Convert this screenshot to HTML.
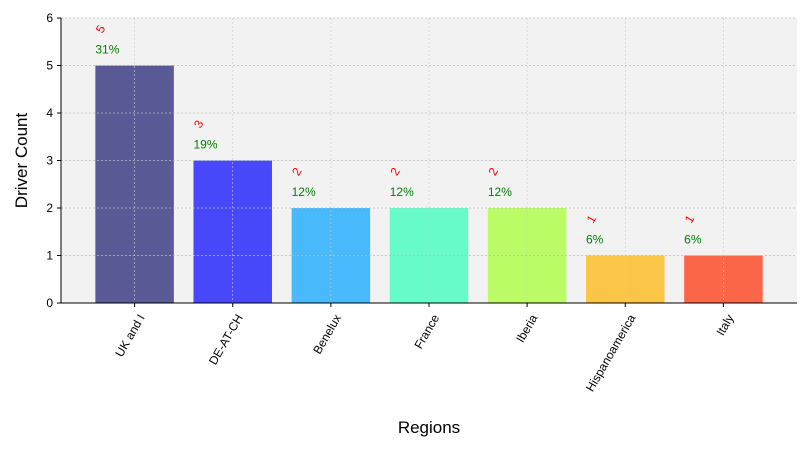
<!DOCTYPE html>
<html><head><meta charset="utf-8"><style>body{margin:0;background:#fff}svg{display:block;font-family:"Liberation Sans","DejaVu Sans",sans-serif}</style></head>
<body>
<svg id="chart" width="810" height="450" xmlns="http://www.w3.org/2000/svg"></svg>
<script>
const categories=["UK and I","DE-AT-CH","Benelux","France","Iberia","Hispanoamerica","Italy"];
const counts=[5,3,2,2,2,1,1];
const percents=["31%","19%","12%","12%","12%","6%","6%"];
const yTicks=[0,1,2,3,4,5,6];
const colors=["#191970","#0000ff","#00a2ff","#2bffb8","#a4ff2b","#ffb300","#ff2a00"];
const svg=document.getElementById('chart');
const NS="http://www.w3.org/2000/svg";
const L=61,R=797,T=18,B=303;
const xmin=-0.75,xmax=categories.length-0.25;
const x=v=>L+(v-xmin)/(xmax-xmin)*(R-L);
const y=v=>B-(v/6)*(B-T);
function mk(tag,attrs,parent){const e=document.createElementNS(NS,tag);for(const k in attrs)e.setAttribute(k,attrs[k]);(parent||svg).appendChild(e);return e;}
const bg=mk('rect',{x:L,y:T,width:R-L,height:B-T,fill:'#f2f2f2'});


const bw=x(0.8)-x(0);
categories.forEach((c,i)=>{
  const r=mk('rect',{x:x(i-0.4),y:y(counts[i]),width:bw,height:B-y(counts[i]),fill:colors[i],'fill-opacity':0.7});
  
  
});
// grid
yTicks.forEach(t=>{const g=mk('line',{x1:L,x2:R,y1:y(t),y2:y(t),stroke:'#bbb','stroke-dasharray':'2,2','stroke-width':0.8});

});
categories.forEach((c,i)=>{const g=mk('line',{x1:x(i),x2:x(i),y1:T,y2:B,stroke:'#ccc','stroke-dasharray':'2,2','stroke-width':0.6});

});
// labels on bars
categories.forEach((c,i)=>{
  const lx=x(i-0.4);
  const p=mk('text',{x:lx,y:y(counts[i])-12,fill:'green','font-size':12});p.textContent=percents[i];
  
  
  const n=mk('text',{x:lx+6,y:y(counts[i])-36,fill:'red','font-size':12,'text-anchor':'middle','dominant-baseline':'middle',transform:`rotate(-60 ${lx+6} ${y(counts[i])-36})`});n.textContent=counts[i];
  
  
  const xl=mk('text',{x:x(i)+3,y:B+10,'font-size':12,'text-anchor':'end','dominant-baseline':'hanging',transform:`rotate(-60 ${x(i)+3} ${B+10})`});xl.textContent=c;
  
  
  const tk=mk('line',{x1:x(i),x2:x(i),y1:B,y2:B+4,stroke:'#000'});
  
  
});
yTicks.forEach(t=>{
  const tk=mk('line',{x1:L-4,x2:L,y1:y(t),y2:y(t),stroke:'#000'});
  
  
  const tl=mk('text',{x:L-8,y:y(t)+4,'font-size':12,'text-anchor':'end'});tl.textContent=t;
  
  
});
const ax=mk('path',{d:`M${L} ${T}V${B}H${R}`,fill:'none',stroke:'#000','stroke-width':1});


const xt=mk('text',{x:(L+R)/2,y:433,'font-size':17,'text-anchor':'middle'});xt.textContent='Regions';


const yt=mk('text',{x:27,y:(T+B)/2,'font-size':17,'text-anchor':'middle',transform:`rotate(-90 27 ${(T+B)/2})`});yt.textContent='Driver Count';


</script>
</body></html>
